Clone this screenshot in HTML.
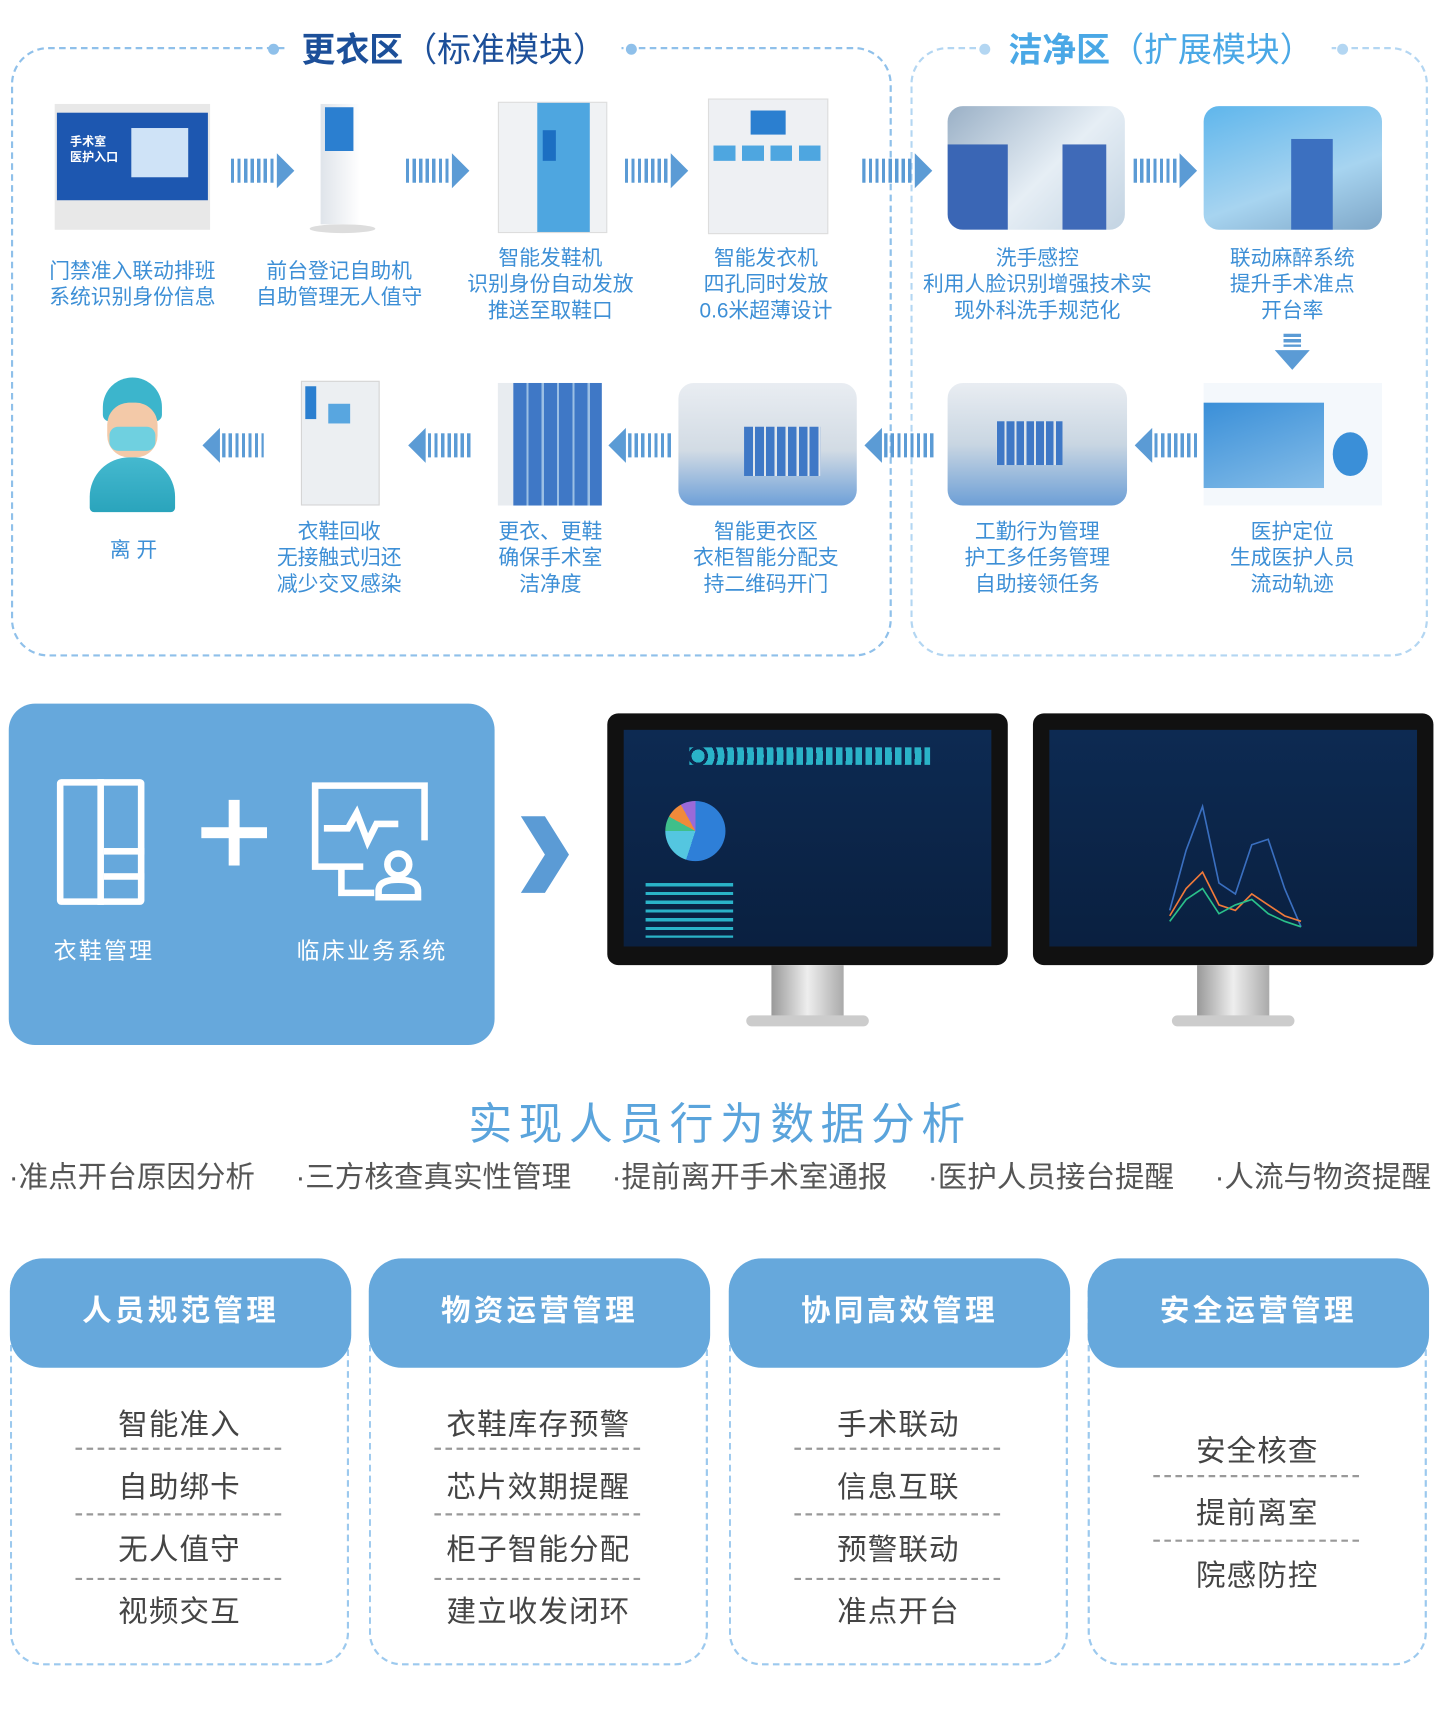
<!DOCTYPE html>
<html><head><meta charset="utf-8"><style>
html,body{margin:0;padding:0;background:#fff;width:1440px;height:1718px;overflow:hidden}
#w{position:absolute;left:0;top:0;width:1316px;height:1570px;transform:scale(1.09422);transform-origin:0 0;font-family:"Liberation Sans","Noto Sans CJK SC",sans-serif}
.a{position:absolute}
.cap{position:absolute;text-align:center;color:#3d8fd6;font-size:19px;line-height:24px;width:240px;margin-left:-120px}
.bar{position:absolute;height:22px;background:repeating-linear-gradient(90deg,#5b9bd5 0 3px,transparent 3px 6px)}
.tri{position:absolute;width:0;height:0;border-top:16px solid transparent;border-bottom:16px solid transparent}
.card{position:absolute;top:1150px;width:310px;height:372px;border:2px dashed #9cc9ee;border-radius:30px;box-sizing:border-box}
.hd{position:absolute;left:-2px;top:-2px;width:312px;height:100px;background:#66a8dc;border-radius:30px;color:#fff;font-size:27px;font-weight:bold;letter-spacing:3px;text-align:center;line-height:96px}
.it{position:absolute;left:0;width:100%;text-align:center;font-size:27px;color:#444;letter-spacing:1px}
.dv{position:absolute;left:58px;width:188px;border-top:2px dashed #999}
.ph{position:absolute;border-radius:14px;overflow:hidden}
</style></head><body><div id="w">
<div class="a" style="left:10px;top:43px;width:805px;height:557px;border:2px dashed #8fc0ea;border-radius:34px;box-sizing:border-box"></div>
<div class="a" style="left:832px;top:43px;width:473px;height:557px;border:2px dashed #b3d6f2;border-radius:34px;box-sizing:border-box"></div>
<div class="a" style="left:262px;top:20px;width:306px;height:48px;background:#fff"></div>
<div class="a" style="left:572px;top:40px;width:10px;height:10px;border-radius:50%;background:#8fc0ea"></div>
<div class="a" style="left:245px;top:40px;width:10px;height:10px;border-radius:50%;background:#8fc0ea"></div>
<div class="a" style="left:262px;top:20px;width:306px;text-align:center;font-size:31px;color:#1c4f99;font-weight:bold;white-space:nowrap">更衣区<span style="font-weight:normal">（标准模块）</span></div>
<div class="a" style="left:905px;top:20px;width:312px;height:48px;background:#fff"></div>
<div class="a" style="left:895px;top:40px;width:10px;height:10px;border-radius:50%;background:#b3d6f2"></div>
<div class="a" style="left:1222px;top:40px;width:10px;height:10px;border-radius:50%;background:#b3d6f2"></div>
<div class="a" style="left:905px;top:20px;width:312px;text-align:center;font-size:31px;color:#4aa8e6;font-weight:bold;white-space:nowrap">洁净区<span style="font-weight:normal">（扩展模块）</span></div>

<div class="a" style="left:50px;top:95px;width:142px;height:115px;background:#e8e8e8"><div class="a" style="left:2px;top:8px;width:138px;height:80px;background:#1d57b0"></div><div class="a" style="left:14px;top:28px;color:#fff;font-size:11px;font-weight:bold;line-height:14px">手术室<br>医护入口</div><div class="a" style="left:70px;top:22px;width:52px;height:45px;background:#cfe3f7"></div></div>
<div class="a" style="left:293px;top:95px;width:36px;height:110px;background:linear-gradient(90deg,#dfe4ea,#fff)"><div class="a" style="left:4px;top:3px;width:26px;height:40px;background:#2b7fd0"></div></div>
<div class="a" style="left:283px;top:205px;width:60px;height:8px;border-radius:50%;background:#ddd"></div>
<div class="a" style="left:455px;top:93px;width:98px;height:118px;background:#f0f2f4;border:1px solid #ddd"><div class="a" style="left:35px;top:0;width:48px;height:118px;background:#4ea6e0"></div><div class="a" style="left:40px;top:25px;width:12px;height:28px;background:#1c6fc2"></div></div>
<div class="a" style="left:647px;top:90px;width:108px;height:122px;background:#eef0f3;border:1px solid #ddd"><div class="a" style="left:38px;top:10px;width:32px;height:22px;background:#2b7fd0"></div><div class="a" style="left:4px;top:42px;width:100px;height:14px;background:repeating-linear-gradient(90deg,#4ea6e0 0 20px,#eef0f3 20px 26px)"></div></div>
<div class="ph" style="left:866px;top:97px;width:162px;height:113px;background:linear-gradient(135deg,#9ab0c6,#e6eef5 55%,#c2d3e2)"><div class="a" style="left:0;top:35px;width:55px;height:78px;background:#3a66b5"></div><div class="a" style="left:105px;top:35px;width:40px;height:78px;background:#3f6ab8"></div></div>
<div class="ph" style="left:1100px;top:97px;width:163px;height:113px;background:linear-gradient(160deg,#5fb6ec,#a7d4f0 60%,#7fa7c8)"><div class="a" style="left:80px;top:30px;width:38px;height:83px;background:#3c70c0"></div></div>

<div class="bar" style="left:211px;top:145px;width:40px"></div><div class="tri" style="left:253px;top:140px;border-left:16px solid #5b9bd5"></div>
<div class="bar" style="left:371px;top:145px;width:40px"></div><div class="tri" style="left:413px;top:140px;border-left:16px solid #5b9bd5"></div>
<div class="bar" style="left:571px;top:145px;width:40px"></div><div class="tri" style="left:613px;top:140px;border-left:16px solid #5b9bd5"></div>
<div class="bar" style="left:788px;top:145px;width:46px"></div><div class="tri" style="left:836px;top:140px;border-left:16px solid #5b9bd5"></div>
<div class="bar" style="left:1036px;top:145px;width:40px"></div><div class="tri" style="left:1078px;top:140px;border-left:16px solid #5b9bd5"></div>
<div class="a" style="left:1173px;top:305px;width:16px;height:12px;background:repeating-linear-gradient(180deg,#5b9bd5 0 3px,transparent 3px 5px)"></div>
<div class="a" style="left:1165px;top:320px;width:0;height:0;border-left:16px solid transparent;border-right:16px solid transparent;border-top:18px solid #5b9bd5"></div>

<div class="cap" style="left:121px;top:237px">门禁准入联动排班<br>系统识别身份信息</div>
<div class="cap" style="left:310px;top:237px">前台登记自助机<br>自助管理无人值守</div>
<div class="cap" style="left:503px;top:225px">智能发鞋机<br>识别身份自动发放<br>推送至取鞋口</div>
<div class="cap" style="left:700px;top:225px">智能发衣机<br>四孔同时发放<br>0.6米超薄设计</div>
<div class="cap" style="left:948px;top:225px;width:260px;margin-left:-130px">洗手感控<br>利用人脸识别增强技术实<br>现外科洗手规范化</div>
<div class="cap" style="left:1181px;top:225px">联动麻醉系统<br>提升手术准点<br>开台率</div>

<div class="a" style="left:94px;top:345px;width:54px;height:40px;border-radius:27px 27px 6px 6px;background:#3cb5cc"></div>
<div class="a" style="left:98px;top:368px;width:46px;height:50px;border-radius:20px;background:#f3c9a8"></div>
<div class="a" style="left:100px;top:390px;width:42px;height:22px;border-radius:8px;background:#6fd0e0"></div>
<div class="a" style="left:82px;top:418px;width:78px;height:50px;border-radius:36px 36px 4px 4px;background:linear-gradient(#45b9cf,#2aa4bc)"></div>
<div class="a" style="left:275px;top:348px;width:70px;height:112px;background:#eceff2;border:1px solid #d5d5d5"><div class="a" style="left:24px;top:20px;width:20px;height:18px;background:#58a6e0"></div><div class="a" style="left:3px;top:4px;width:10px;height:30px;background:#2b7fd0"></div></div>
<div class="a" style="left:455px;top:350px;width:95px;height:112px;background:repeating-linear-gradient(90deg,#3f78c6 0 12px,#9bbfe4 12px 14px);border-left:14px solid #e8ecf0;box-sizing:border-box"></div>
<div class="ph" style="left:620px;top:350px;width:163px;height:112px;background:linear-gradient(180deg,#e9edf2,#d2dbe4 55%,#6ea0d8)"><div class="a" style="left:60px;top:40px;width:70px;height:45px;background:repeating-linear-gradient(90deg,#3f78c6 0 8px,#e0e6ec 8px 10px)"></div></div>
<div class="ph" style="left:866px;top:350px;width:164px;height:112px;background:linear-gradient(180deg,#e9edf2,#c9d6e2 50%,#6d9fd6)"><div class="a" style="left:45px;top:35px;width:60px;height:40px;background:repeating-linear-gradient(90deg,#3f78c6 0 7px,#dde5ec 7px 9px)"></div></div>
<div class="a" style="left:1100px;top:350px;width:163px;height:112px;background:#f4f8fc"><div class="a" style="left:0;top:18px;width:110px;height:78px;background:linear-gradient(160deg,#3a8fd8,#85bde8)"></div><div class="a" style="left:118px;top:45px;width:32px;height:40px;border-radius:50%;background:#3a8fd8"></div></div>

<div class="tri" style="left:185px;top:391px;border-right:16px solid #5b9bd5"></div><div class="bar" style="left:203px;top:396px;width:38px"></div>
<div class="tri" style="left:373px;top:391px;border-right:16px solid #5b9bd5"></div><div class="bar" style="left:391px;top:396px;width:40px"></div>
<div class="tri" style="left:556px;top:391px;border-right:16px solid #5b9bd5"></div><div class="bar" style="left:574px;top:396px;width:40px"></div>
<div class="tri" style="left:790px;top:391px;border-right:16px solid #5b9bd5"></div><div class="bar" style="left:808px;top:396px;width:46px"></div>
<div class="tri" style="left:1037px;top:391px;border-right:16px solid #5b9bd5"></div><div class="bar" style="left:1055px;top:396px;width:40px"></div>

<div class="cap" style="left:122px;top:492px">离 开</div>
<div class="cap" style="left:310px;top:475px">衣鞋回收<br>无接触式归还<br>减少交叉感染</div>
<div class="cap" style="left:503px;top:475px">更衣、更鞋<br>确保手术室<br>洁净度</div>
<div class="cap" style="left:700px;top:475px">智能更衣区<br>衣柜智能分配支<br>持二维码开门</div>
<div class="cap" style="left:948px;top:475px">工勤行为管理<br>护工多任务管理<br>自助接领任务</div>
<div class="cap" style="left:1181px;top:475px">医护定位<br>生成医护人员<br>流动轨迹</div>

<div class="a" style="left:8px;top:643px;width:444px;height:312px;background:#66a8dc;border-radius:24px"></div>
<div class="a" style="left:52px;top:712px;width:80px;height:115px;border:6px solid #fff;border-radius:4px;box-sizing:border-box"></div>
<div class="a" style="left:89px;top:712px;width:6px;height:115px;background:#fff"></div>
<div class="a" style="left:95px;top:775px;width:37px;height:6px;background:#fff"></div>
<div class="a" style="left:95px;top:798px;width:37px;height:6px;background:#fff"></div>
<div class="a" style="left:184px;top:756px;width:60px;height:10px;background:#fff"></div>
<div class="a" style="left:209px;top:731px;width:10px;height:60px;background:#fff"></div>
<svg class="a" style="left:282px;top:712px" width="115" height="115" viewBox="0 0 115 115"><g fill="none" stroke="#fff" stroke-width="6"><path d="M50 80H6V6h100v50"/><path d="M14 45h22l8-14 10 26 8-16h20"/><circle cx="82" cy="78" r="10"/><path d="M64 108v-6q0-10 18-10t18 10v6z"/><path d="M30 80v24h30"/></g></svg>
<div class="a" style="left:40px;top:853px;width:110px;text-align:center;color:#fff;font-size:21px;letter-spacing:2px">衣鞋管理</div>
<div class="a" style="left:255px;top:853px;width:170px;text-align:center;color:#fff;font-size:21px;letter-spacing:2px">临床业务系统</div>
<svg class="a" style="left:474px;top:744px" width="48" height="74"><path d="M2 2L24 2 46 37 24 72 2 72 24 37z" fill="#5b9bd5"/><path d="M2 37L24 37 2 72z" fill="#fff" opacity=".25"/></svg>

<div class="a" style="left:555px;top:652px;width:366px;height:230px;background:#111;border-radius:10px"><div class="a" style="left:15px;top:15px;width:336px;height:198px;background:linear-gradient(#0d2a52,#0a2040)"><div class="a" style="left:60px;top:16px;width:220px;height:16px;background:repeating-radial-gradient(circle at 8px 8px,#2ab3c8 0 6px,transparent 6px 9px)"></div><div class="a" style="left:38px;top:65px;width:55px;height:55px;border-radius:50%;background:conic-gradient(#2e7fd8 0 55%,#54c6e0 0 75%,#3fbf8a 0 83%,#f08a3a 0 92%,#9a6ad8 0)"></div><div class="a" style="left:20px;top:140px;width:80px;height:50px;background:repeating-linear-gradient(180deg,#2ab3c8 0 3px,transparent 3px 8px)"></div></div></div>
<div class="a" style="left:705px;top:882px;width:66px;height:50px;background:linear-gradient(90deg,#999,#eee,#aaa)"></div>
<div class="a" style="left:682px;top:928px;width:112px;height:10px;border-radius:5px;background:#ccc"></div>
<div class="a" style="left:944px;top:652px;width:366px;height:230px;background:#111;border-radius:10px"><div class="a" style="left:15px;top:15px;width:336px;height:198px;background:linear-gradient(#0d2a52,#0a2040)"><svg class="a" style="left:100px;top:50px" width="140" height="140"><polyline fill="none" stroke="#3a6fc0" stroke-width="1.5" points="10,115 25,60 40,20 55,90 70,100 85,55 100,50 115,95 130,130"/><polyline fill="none" stroke="#f07a3a" stroke-width="1.5" points="10,120 25,95 40,80 55,110 70,115 85,100 100,110 115,120 130,125"/><polyline fill="none" stroke="#2ac08a" stroke-width="1.5" points="10,125 25,105 40,95 55,118 70,110 85,105 100,118 115,125 130,130"/></svg></div></div>
<div class="a" style="left:1094px;top:882px;width:66px;height:50px;background:linear-gradient(90deg,#999,#eee,#aaa)"></div>
<div class="a" style="left:1071px;top:928px;width:112px;height:10px;border-radius:5px;background:#ccc"></div>

<div class="a" style="left:0;top:995px;width:1316px;text-align:center;font-size:40px;color:#5aa4dc;letter-spacing:6px">实现人员行为数据分析</div>
<div class="a" style="left:8px;top:1054px;width:1300px;font-size:27px;color:#555;white-space:nowrap;display:flex;justify-content:space-between"><span>·准点开台原因分析</span><span>·三方核查真实性管理</span><span>·提前离开手术室通报</span><span>·医护人员接台提醒</span><span>·人流与物资提醒</span></div>

<div class="card" style="left:9px"><div class="hd">人员规范管理</div>
<div class="it" style="top:128px">智能准入</div><div class="dv" style="top:171px"></div>
<div class="it" style="top:185px">自助绑卡</div><div class="dv" style="top:231px"></div>
<div class="it" style="top:242px">无人值守</div><div class="dv" style="top:290px"></div>
<div class="it" style="top:299px">视频交互</div></div>
<div class="card" style="left:337px"><div class="hd">物资运营管理</div>
<div class="it" style="top:128px">衣鞋库存预警</div><div class="dv" style="top:171px"></div>
<div class="it" style="top:185px">芯片效期提醒</div><div class="dv" style="top:231px"></div>
<div class="it" style="top:242px">柜子智能分配</div><div class="dv" style="top:290px"></div>
<div class="it" style="top:299px">建立收发闭环</div></div>
<div class="card" style="left:666px"><div class="hd">协同高效管理</div>
<div class="it" style="top:128px">手术联动</div><div class="dv" style="top:171px"></div>
<div class="it" style="top:185px">信息互联</div><div class="dv" style="top:231px"></div>
<div class="it" style="top:242px">预警联动</div><div class="dv" style="top:290px"></div>
<div class="it" style="top:299px">准点开台</div></div>
<div class="card" style="left:994px"><div class="hd">安全运营管理</div>
<div class="it" style="top:152px">安全核查</div><div class="dv" style="top:196px"></div>
<div class="it" style="top:209px">提前离室</div><div class="dv" style="top:255px"></div>
<div class="it" style="top:266px">院感防控</div></div>
</div></body></html>
